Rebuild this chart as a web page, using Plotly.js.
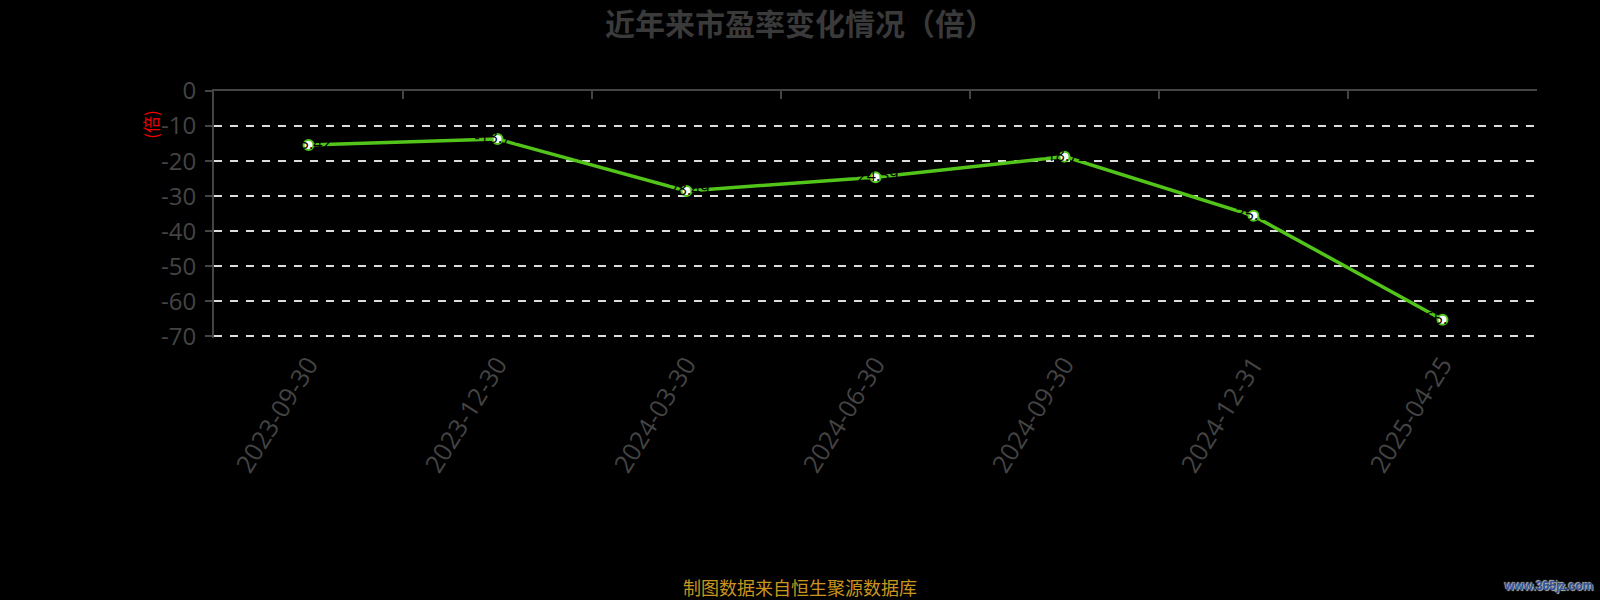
<!DOCTYPE html>
<html>
<head>
<meta charset="utf-8">
<script src="https://cdn.plot.ly/plotly-3.0.1.min.js"></script>
<style>
  html, body { margin: 0; padding: 0; background: #000; }
  #chart { width: 1600px; height: 600px; }
</style>
</head>
<body>
<div id="chart"></div>
<script>
// ---- data ----
const dates = ['2023-09-30', '2023-12-30', '2024-03-30', '2024-06-30', '2024-09-30', '2024-12-31', '2025-04-25'];
const peValues = [-15.42, -13.71, -28.49, -24.59, -18.72, -35.61, -65.23];
const peLabels = ['-15.42', '-13.71', '-28.49', '-24.59', '-18.72', '-35.61', '-65.23'];
const yTickVals = [0, -10, -20, -30, -40, -50, -60, -70];
const yTickText = ['0', '-10', '-20', '-30', '-40', '-50', '-60', '-70'];
const titleText = '近年来市盈率变化情况（倍）';
const yUnitText = '(倍)';
const sourceText = '制图数据来自恒生聚源数据库';
const watermarkText = 'www.365jz.com';

const FONT = '"Open Sans", "Noto Sans CJK SC", sans-serif';
const CJK = '"Noto Sans CJK SC", "Open Sans", sans-serif';
const GREEN = '#52c41a';
const AXIS = '#444444';

const catRange = [-0.5, dates.length - 0.5];

const traces = [
  {
    type: 'scatter',
    mode: 'lines+markers+text',
    x: dates,
    y: peValues,
    text: peLabels,
    textposition: 'middle center',
    textfont: { family: FONT, size: 16, color: '#000000' },
    line: { color: GREEN, width: 3.5 },
    marker: { size: 10, color: '#ffffff', line: { color: GREEN, width: 2 } },
    hoverinfo: 'skip',
    cliponaxis: false,
    xaxis: 'x',
    yaxis: 'y'
  },
  {
    // invisible copy to give the top axis line its categories
    type: 'scatter',
    mode: 'markers',
    x: dates,
    y: peValues,
    marker: { opacity: 0 },
    hoverinfo: 'skip',
    showlegend: false,
    xaxis: 'x2',
    yaxis: 'y'
  }
];

const layout = {
  width: 1600,
  height: 600,
  paper_bgcolor: '#000000',
  plot_bgcolor: '#000000',
  showlegend: false,
  margin: { l: 214, r: 63, t: 91, b: 262 },
  title: {
    text: '<b>' + titleText + '</b>',
    font: { family: CJK, size: 30, color: '#3a3a3a' },
    x: 0.5, xanchor: 'center',
    y: 0.96, yanchor: 'middle'
  },
  xaxis: {
    type: 'category',
    range: catRange,
    showgrid: false,
    showline: false,
    zeroline: false,
    ticks: '',
    tickangle: -58,
    tickfont: { family: FONT, size: 25, color: AXIS },
    ticklabelstandoff: 6
  },
  xaxis2: {
    type: 'category',
    overlaying: 'x',
    side: 'top',
    range: catRange,
    showgrid: false,
    zeroline: false,
    showline: true,
    linecolor: AXIS,
    linewidth: 2,
    ticks: 'inside',
    tickson: 'boundaries',
    ticklen: 8,
    tickwidth: 2,
    tickcolor: AXIS,
    showticklabels: false
  },
  yaxis: {
    range: [-70.45, 0],
    tickmode: 'array',
    tickvals: yTickVals,
    ticktext: yTickText,
    tickfont: { family: FONT, size: 24, color: AXIS },
    showline: true,
    linecolor: AXIS,
    linewidth: 2,
    ticks: 'outside',
    ticklen: 7,
    tickwidth: 2,
    tickcolor: AXIS,
    ticklabelstandoff: 4,
    showgrid: true,
    gridcolor: '#dddddd',
    gridwidth: 2,
    griddash: '8px,8px',
    zeroline: false
  },
  annotations: [
    {
      text: yUnitText,
      xref: 'paper', yref: 'paper',
      x: -0.048, y: 0.865,
      xanchor: 'center', yanchor: 'middle',
      textangle: -90,
      showarrow: false,
      font: { family: CJK, size: 17, color: '#ee0000' }
    },
    {
      text: sourceText,
      xref: 'paper', yref: 'paper',
      x: (800 - 214) / 1323, xanchor: 'center',
      y: -1.008, yanchor: 'middle',
      showarrow: false,
      font: { family: CJK, size: 18, color: '#c8961e' }
    },
    {
      text: '<b>' + watermarkText + '</b>',
      xref: 'paper', yref: 'paper',
      x: 1.0, xanchor: 'right', xshift: 58,
      y: -1.004, yanchor: 'middle',
      showarrow: false,
      font: { family: '"Liberation Sans", sans-serif', size: 12, color: '#2f54a0', shadow: '1px 1px 1px #bbbbbb, -1px -1px 1px #bbbbbb' }
    }
  ]
};

Plotly.newPlot('chart', traces, layout, { displayModeBar: false, staticPlot: true });
</script>
</body>
</html>
